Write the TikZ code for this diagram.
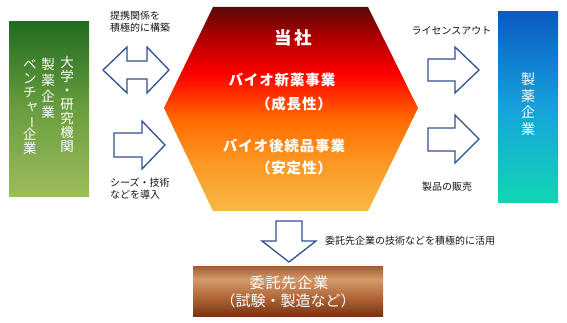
\documentclass[tikz,border=0pt]{standalone}
\usepackage{fontspec}
\setmainfont{Noto Sans CJK JP}
\newfontfamily\jpsp[LetterSpace=6]{Noto Sans CJK JP}
\newfontfamily\jpspb[LetterSpace=16]{Noto Sans CJK JP}
\definecolor{arrblue}{RGB}{47,82,143}
\definecolor{hx0}{RGB}{92,8,8}
\definecolor{hx1}{RGB}{176,0,0}
\definecolor{hx2}{RGB}{255,0,0}
\definecolor{hx3}{RGB}{255,106,0}
\definecolor{hx4}{RGB}{251,150,32}
\definecolor{hx5}{RGB}{248,184,72}
\definecolor{gr0}{RGB}{34,108,34}
\definecolor{gr1}{RGB}{106,158,62}
\definecolor{gr2}{RGB}{156,188,92}
\definecolor{bl0}{RGB}{10,90,196}
\definecolor{bl1}{RGB}{22,162,220}
\definecolor{bl2}{RGB}{16,214,180}
\definecolor{br0}{RGB}{164,90,44}
\definecolor{br1}{RGB}{212,154,108}
\definecolor{br2}{RGB}{180,106,58}
\definecolor{br3}{RGB}{120,52,16}
\definecolor{txtgray}{RGB}{20,20,20}
\pgfdeclareverticalshading{hexsh}{100bp}{color(0bp)=(hx5); color(25bp)=(hx5); color(37.5bp)=(hx4); color(47.5bp)=(hx3); color(58.5bp)=(hx2); color(67.5bp)=(hx1); color(75bp)=(hx0); color(100bp)=(hx0)}
\pgfdeclareverticalshading{greensh}{100bp}{color(0bp)=(gr2); color(25bp)=(gr2); color(50bp)=(gr1); color(75bp)=(gr0); color(100bp)=(gr0)}
\pgfdeclareverticalshading{bluesh}{100bp}{color(0bp)=(bl2); color(25bp)=(bl2); color(50bp)=(bl1); color(75bp)=(bl0); color(100bp)=(bl0)}
\pgfdeclareverticalshading{brownsh}{100bp}{color(0bp)=(br3); color(25bp)=(br3); color(45bp)=(br2); color(62bp)=(br1); color(75bp)=(br0); color(100bp)=(br0)}
\begin{document}
\begin{tikzpicture}[x=1pt,y=-1pt,
  arr/.style={draw=arrblue, fill=white, line width=1.3pt, line join=miter},
  lbl/.style={font=\fontsize{10}{12.5}\selectfont, text=txtgray, inner sep=0pt},
  vcol/.style={align=center, inner sep=0pt, text=white, anchor=north},
  hext/.style={text=white, inner sep=0pt, font=\jpsp\bfseries\fontsize{14.5}{16}\selectfont}]
\useasboundingbox (0,0) rectangle (567,323);
% boxes
\path[shading=greensh] (9,22) rectangle (89,196);
\path[shading=bluesh] (498,12) rectangle (558,202);
\path[shading=brownsh] (193,266) rectangle (383,316);
% hexagon
\coordinate (h1) at (213,7); \coordinate (h2) at (368,7); \coordinate (h3) at (418,108);
\coordinate (h4) at (368,211); \coordinate (h5) at (213,211); \coordinate (h6) at (164,108);
\path[shading=hexsh] (h1) -- (h2) -- (h3) -- (h4) -- (h5) -- (h6) -- cycle;
% left texts
\node[vcol, font=\fontsize{13.5}{14}\selectfont] (c1) at (67,56) {大\\学\\・\\研\\究\\機\\関};
\node[vcol, font=\fontsize{13.5}{16}\selectfont] (c2) at (48,58) {製\\薬\\企\\業};
\node[vcol, font=\fontsize{13.5}{14}\selectfont] (c3) at (30,59) {ベ\\ン\\チ\\\makebox[1em]{\hspace{0.3em}\raisebox{0.06em}{ャ}}\\\smash{\rotatebox[origin=c]{-90}{\scalebox{0.9}{ー}}}\\企\\業};
\node[vcol, font=\fontsize{14}{16.5}\selectfont] (c4) at (528,73) {製\\薬\\企\\業};
% hex texts
\node[text=white, inner sep=0pt, font=\jpspb\bfseries\fontsize{17.5}{19}\selectfont] (tosha) at (293,38) {当社};
\node[hext] (t1) at (282,80) {バイオ新薬事業};
\node[hext] (t2) at (294,104) {（成長性）};
\node[hext] (t3) at (284,146) {バイオ後続品事業};
\node[hext] (t4) at (294,168) {（安定性）};
% brown box texts
\node[text=white, inner sep=0pt, font=\jpsp\fontsize{15}{16}\selectfont] (b1) at (289,283) {委託先企業};
\node[text=white, inner sep=0pt, font=\fontsize{15}{16}\selectfont] (b2) at (288,301) {（試験・製造など）};
% labels
\node[lbl, align=left, anchor=west] (l1) at (110,21.5) {提携関係を\\積極的に構築};
\node[lbl, align=left, anchor=west] (l2) at (110,188.5) {シーズ・技術\\などを導入};
\node[lbl] (l3) at (451.5,31) {ライセンスアウト};
\node[lbl] (l4) at (447,187) {製品の販売};
\node[lbl, anchor=west] (l5) at (325,241) {委託先企業の技術などを積極的に活用};
% arrows
\draw[arr] (103,70) -- (127,47) -- (127,61) -- (147,61) -- (147,47) -- (169,70) -- (147,93) -- (147,79) -- (127,79) -- (127,93) -- cycle;
\draw[arr] (114,133) -- (142,133) -- (142,121) -- (165,145) -- (142,169) -- (142,157) -- (114,157) -- cycle;
\draw[arr] (428,59) -- (455,59) -- (455,47) -- (479,70) -- (455,93) -- (455,81) -- (428,81) -- cycle;
\draw[arr] (428,128) -- (455,128) -- (455,115) -- (479,139) -- (455,163) -- (455,151) -- (428,151) -- cycle;
\draw[arr] (276,221) -- (302,221) -- (302,241) -- (316,241) -- (289,262) -- (262,241) -- (276,241) -- cycle;
\end{tikzpicture}
\end{document}
